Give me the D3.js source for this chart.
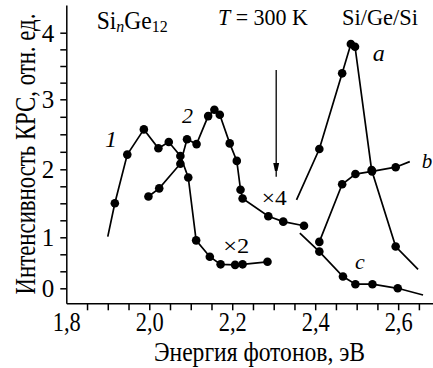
<!DOCTYPE html>
<html>
<head>
<meta charset="utf-8">
<script src="https://cdn.jsdelivr.net/npm/d3@7"></script>
<style>
  body { margin: 0; background: #fff; }
  svg { display: block; font-family: "Liberation Serif", "DejaVu Serif", serif; }
</style>
</head>
<body>
<div id="graph"></div>
<script>
// curve 1 (Si_nGe_12)
var e1 = [1.900, 1.917, 1.947, 1.987, 2.022, 2.047, 2.075, 2.094, 2.113, 2.146, 2.172, 2.207, 2.225, 2.285];
var i1 = [1.01, 1.50, 2.21, 2.57, 2.30, 2.39, 2.19, 1.88, 0.94, 0.62, 0.47, 0.46, 0.47, 0.52];
var bare1 = [0];
// curve 2
var e2 = [1.998, 2.024, 2.075, 2.091, 2.114, 2.142, 2.157, 2.170, 2.194, 2.211, 2.220, 2.225, 2.287, 2.323, 2.373];
var i2 = [1.60, 1.72, 2.08, 2.43, 2.36, 2.76, 2.85, 2.78, 2.37, 2.12, 1.70, 1.57, 1.31, 1.23, 1.17];
var bare2 = [];
// Si/Ge/Si, a
var eA = [2.355, 2.410, 2.465, 2.486, 2.496, 2.536, 2.594, 2.648];
var iA = [1.55, 2.29, 3.39, 3.83, 3.79, 1.99, 0.82, 0.37];
var bareA = [0, 7];
// b
var eB = [2.410, 2.465, 2.497, 2.537, 2.594, 2.628];
var iB = [0.91, 1.78, 1.93, 1.97, 2.03, 2.11];
var bareB = [5];
// c
var eC = [2.363, 2.410, 2.467, 2.497, 2.538, 2.599, 2.660];
var iC = [1.06, 0.72, 0.23, 0.08, 0.08, 0.00, -0.13];
var bareC = [0, 6];

// ticks
var xTicks = [1.8, 1.85, 1.9, 1.95, 2.0, 2.05, 2.1, 2.15, 2.2, 2.25, 2.3, 2.35, 2.4, 2.45, 2.5, 2.55, 2.6, 2.65];
var xLabels = [1.8, 2.0, 2.2, 2.4, 2.6];
var yTicks = [0, 1 / 3, 2 / 3, 1, 1.25, 1.5, 1.75, 2, 2.25, 2.5, 2.75, 3, 3.25, 3.5, 3.75, 4];
var yLabels = [0, 1, 2, 3, 4];

// arrow (energy, from, to)
var arrowE = 2.306, arrowFrom = 3.44, arrowTo = 1.89;

var width = 433, height = 368;

var svg = d3.select("#graph")
  .append("svg")
  .attr("width", width)
  .attr("height", height);

var x = d3.scaleLinear().domain([1.8, 2.684]).range([66.3, 433]);
// the printed axis is not quite even, follow it piece by piece
var y = d3.scaleLinear()
  .domain([-0.29, 0, 1, 2, 3, 4, 4.42])
  .range([303.3, 288.3, 237.3, 169.3, 99.3, 32.7, 5]);

var comma = function (d) { return d3.format(".1f")(d).replace(".", ","); };

// X axis
var gx = svg.append("g")
  .attr("transform", "translate(0,303.3)")
  .call(d3.axisBottom(x)
    .tickValues(xTicks)
    .tickSize(7)
    .tickSizeOuter(0)
    .tickFormat(function (d) {
      return xLabels.some(function (v) { return Math.abs(v - d) < 1e-6; }) ? comma(d) : "";
    }));
gx.attr("font-family", null).attr("font-size", null);
gx.selectAll(".tick").filter(function (d) { return Math.abs(d - 1.8) < 1e-6; }).select("line").remove();
gx.selectAll("text")
  .attr("y", 28).attr("dy", null)
  .attr("font-size", 27)
  .filter(function () { return this.textContent !== ""; })
  .attr("textLength", 28).attr("lengthAdjust", "spacingAndGlyphs");

// Y axis
var gy = svg.append("g")
  .attr("transform", "translate(66.3,0)")
  .call(d3.axisLeft(y)
    .tickValues(yTicks)
    .tickSize(6)
    .tickSizeOuter(0)
    .tickFormat(function (d) { return yLabels.indexOf(d) >= 0 ? d : ""; }));
gy.attr("font-family", null).attr("font-size", null);
gy.selectAll("text").attr("x", -12).attr("dy", "0.34em").attr("font-size", 25);

svg.selectAll(".domain, .tick line").attr("stroke", "#000").attr("stroke-width", 1.5);

// axis titles
svg.append("text")
  .attr("x", 259.5).attr("y", 361)
  .attr("text-anchor", "middle")
  .attr("font-size", 28)
  .attr("textLength", 211).attr("lengthAdjust", "spacingAndGlyphs")
  .text("Энергия фотонов, эВ");

// narrow print face: squeeze along the text
svg.append("text")
  .attr("transform", "translate(35,154) rotate(-90) scale(0.76,1)")
  .attr("text-anchor", "middle")
  .attr("font-size", 30)
  .text("Интенсивность КРС, отн. ед.");

// curves
var series = [
  { e: e1, i: i1, bare: bare1 },
  { e: e2, i: i2, bare: bare2 },
  { e: eA, i: iA, bare: bareA },
  { e: eB, i: iB, bare: bareB },
  { e: eC, i: iC, bare: bareC }
];

var line = d3.line()
  .x(function (d) { return x(d[0]); })
  .y(function (d) { return y(d[1]); });

series.forEach(function (s) {
  var pts = s.e.map(function (v, k) { return [v, s.i[k], s.bare.indexOf(k) < 0]; });
  svg.append("path")
    .datum(pts)
    .attr("fill", "none")
    .attr("stroke", "#000")
    .attr("stroke-width", 1.7)
    .attr("d", line);
  svg.append("g")
    .selectAll("circle")
    .data(pts.filter(function (p) { return p[2]; }))
    .join("circle")
    .attr("cx", function (d) { return x(d[0]); })
    .attr("cy", function (d) { return y(d[1]); })
    .attr("r", 4.3)
    .attr("fill", "#000");
});

// arrow
svg.append("defs").append("marker")
  .attr("id", "head")
  .attr("markerUnits", "userSpaceOnUse")
  .attr("markerWidth", 8).attr("markerHeight", 16)
  .attr("refX", 14).attr("refY", 4)
  .attr("orient", "auto")
  .append("path")
  .attr("d", "M0,1 L14,4 L0,7 Z")
  .attr("fill", "#000");

svg.append("line")
  .attr("x1", x(arrowE)).attr("x2", x(arrowE))
  .attr("y1", y(arrowFrom)).attr("y2", y(arrowTo))
  .attr("stroke", "#000").attr("stroke-width", 1.3)
  .attr("marker-end", "url(#head)");

// labels
var t = svg.append("text").attr("x", 96.7).attr("y", 29).attr("font-size", 25)
  .attr("textLength", 71).attr("lengthAdjust", "spacingAndGlyphs");
t.append("tspan").text("Si");
t.append("tspan").attr("font-style", "italic").attr("font-size", 17).attr("dy", 3).text("n");
t.append("tspan").attr("dy", -3).text("Ge");
t.append("tspan").attr("font-size", 17).attr("dy", 3).text("12");

var tt = svg.append("text").attr("x", 218).attr("y", 25).attr("font-size", 23)
  .attr("textLength", 90).attr("lengthAdjust", "spacingAndGlyphs");
tt.append("tspan").attr("font-style", "italic").text("T");
tt.append("tspan").text(" = 300 K");

svg.append("text").attr("x", 342).attr("y", 25).attr("font-size", 23)
  .attr("textLength", 76).attr("lengthAdjust", "spacingAndGlyphs")
  .text("Si/Ge/Si");

var notes = [
  { s: "1", x: 105, y: 147, f: 24, it: true },
  { s: "2", x: 182, y: 123, f: 22, it: true },
  { s: "a", x: 372.7, y: 60.7, f: 24, it: true },
  { s: "b", x: 421.7, y: 168.3, f: 21, it: true },
  { s: "c", x: 355, y: 269, f: 22, it: true },
  { s: "×4", x: 261.7, y: 205, f: 22, it: false, w: 25 },
  { s: "×2", x: 223.3, y: 253, f: 22, it: false, w: 26 }
];
notes.forEach(function (n) {
  var el = svg.append("text")
    .attr("x", n.x).attr("y", n.y)
    .attr("font-size", n.f)
    .attr("font-style", n.it ? "italic" : null)
    .text(n.s);
  if (n.w) el.attr("textLength", n.w).attr("lengthAdjust", "spacingAndGlyphs");
});
</script>
</body>
</html>
